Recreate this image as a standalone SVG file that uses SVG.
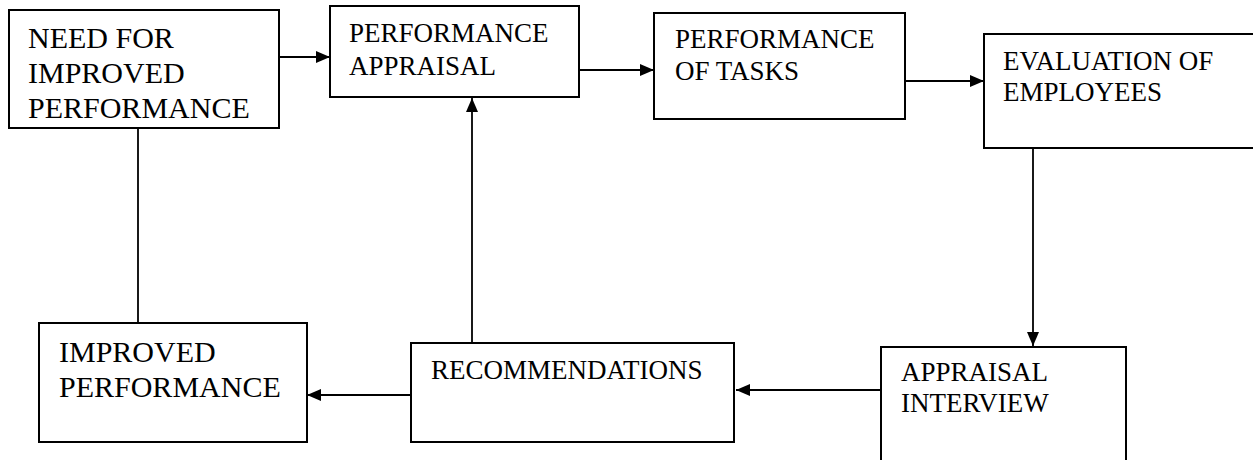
<svg xmlns="http://www.w3.org/2000/svg" width="1253" height="460" viewBox="0 0 1253 460">
<style>
.box{fill:#fff;stroke:#000;stroke-width:2}
.t{font-family:"Liberation Serif","Times New Roman",serif;fill:#000;font-size:27px}
.big{font-size:30px}
.c{fill:none;stroke:#000;stroke-width:1.8}
</style>
<defs>
<marker id="ah" markerUnits="userSpaceOnUse" markerWidth="14" markerHeight="12" refX="14" refY="6" orient="auto">
<path d="M0,0 L14,6 L0,12 Z" fill="#000"/>
</marker>
</defs>
<rect width="1253" height="460" fill="#fff"/>
<g id="connectors">
<line class="c" x1="279" y1="57" x2="330" y2="57" marker-end="url(#ah)"/>
<line class="c" x1="579" y1="70" x2="654" y2="70" marker-end="url(#ah)"/>
<line class="c" x1="905" y1="81" x2="984" y2="81" marker-end="url(#ah)"/>
<line class="c" x1="1033" y1="148" x2="1033" y2="346" marker-end="url(#ah)"/>
<line class="c" x1="881" y1="390" x2="736" y2="390" marker-end="url(#ah)"/>
<line class="c" x1="472" y1="343" x2="472" y2="98" marker-end="url(#ah)"/>
<line class="c" x1="410" y1="395" x2="307" y2="395" marker-end="url(#ah)"/>
<line class="c" x1="138" y1="128" x2="138" y2="323"/>
</g>
<g id="n1">
<rect class="box" x="9" y="10" width="270" height="118"/>
<text class="t big" x="28" y="48">NEED FOR</text>
<text class="t big" x="28" y="83">IMPROVED</text>
<text class="t big" x="28" y="118">PERFORMANCE</text>
</g>
<g id="n2">
<rect class="box" x="330" y="6" width="249" height="91"/>
<text class="t" x="349" y="42">PERFORMANCE</text>
<text class="t" x="349" y="75">APPRAISAL</text>
</g>
<g id="n3">
<rect class="box" x="654" y="13" width="251" height="106"/>
<text class="t" x="675" y="48">PERFORMANCE</text>
<text class="t" x="675" y="80">OF TASKS</text>
</g>
<g id="n4">
<rect class="box" x="984" y="34" width="280" height="114"/>
<text class="t" x="1003" y="70">EVALUATION OF</text>
<text class="t" x="1003" y="101">EMPLOYEES</text>
</g>
<g id="n7">
<rect class="box" x="881" y="347" width="245" height="130"/>
<text class="t" x="901" y="381">APPRAISAL</text>
<text class="t" x="901" y="412">INTERVIEW</text>
</g>
<g id="n6">
<rect class="box" x="411" y="343" width="323" height="99"/>
<text class="t" x="431" y="379">RECOMMENDATIONS</text>
</g>
<g id="n5">
<rect class="box" x="39" y="323" width="268" height="119"/>
<text class="t big" x="59" y="362">IMPROVED</text>
<text class="t big" x="59" y="397">PERFORMANCE</text>
</g>
</svg>
